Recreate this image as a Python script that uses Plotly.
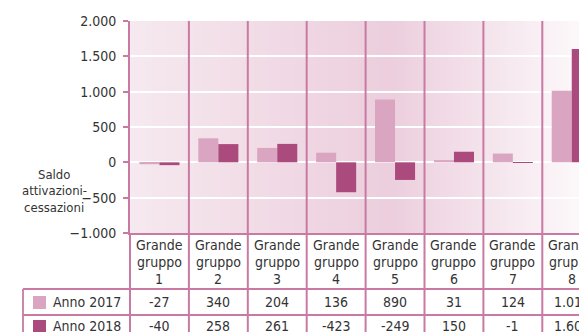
import plotly.graph_objects as go

# Grandi gruppi professionali: saldo attivazioni-cessazioni
gruppi = [1, 2, 3, 4, 5, 6, 7, 8]
anno_2017 = [-27, 340, 204, 136, 890, 31, 124, 1013]
anno_2018 = [-40, 258, 261, -423, -249, 150, -1, 1604]
serie = [("Anno 2017", anno_2017, "#d9a5c1"), ("Anno 2018", anno_2018, "#ab4a7d")]
y_ticks = [-1000, -500, 0, 500, 1000, 1500, 2000]

W, H = 579, 332
L, T, PW, PH = 130, 21, 449, 212
LINE = "#c97aa3"
TXT = "#333333"
FONT = "DejaVu Sans Condensed, Liberation Sans Narrow, Roboto, sans-serif"
FS = 14


def fx(p):
    return (p - L) / PW


def fy(p):
    return (T + PH - p) / PH


def it_num(v):
    return f"{v:,}".replace(",", ".")


fig = go.Figure()
for nome, valori, colore in serie:
    fig.add_trace(go.Bar(
        x=gruppi, y=valori, name=nome,
        marker=dict(color=colore, line=dict(width=0)),
        showlegend=False,
    ))

shapes = []
# horizontal gradient behind the plot area
stops = [(0.0, (246, 233, 239)), (0.58, (236, 206, 221)), (1.0, (252, 248, 250))]
N = 120
for i in range(N):
    t = (i + 0.5) / N
    for (a, ca), (b, cb) in zip(stops[:-1], stops[1:]):
        if a <= t <= b:
            f = (t - a) / (b - a)
            c = tuple(round(ca[k] + (cb[k] - ca[k]) * f) for k in range(3))
            break
    shapes.append(dict(type="rect", xref="paper", yref="paper",
                       x0=i / N, x1=(i + 1) / N + 0.002, y0=0, y1=1,
                       fillcolor=f"rgb{c}", line=dict(width=0), layer="below"))

# column separators (plot area + table)
for g in gruppi:
    shapes.append(dict(type="line", xref="x", yref="paper",
                       x0=g + 0.5, x1=g + 0.5, y0=1, y1=fy(345),
                       line=dict(color=LINE, width=2)))
# table frame
shapes.append(dict(type="line", xref="paper", yref="paper",
                   x0=0, x1=0, y0=0, y1=fy(345), line=dict(color=LINE, width=2)))
shapes.append(dict(type="line", xref="paper", yref="paper",
                   x0=fx(23), x1=fx(23), y0=fy(289), y1=fy(345), line=dict(color=LINE, width=1.8)))
for yy in (289, 315):
    shapes.append(dict(type="line", xref="paper", yref="paper",
                       x0=fx(23), x1=1.01, y0=fy(yy), y1=fy(yy), line=dict(color=LINE, width=1.8)))

annotations = []
# column headers
for g in gruppi:
    for k, riga in enumerate(["Grande", "gruppo", str(g)]):
        annotations.append(dict(x=g, xref="x", y=fy(245 + 17 * k), yref="paper",
                                text=riga, showarrow=False, xanchor="center", yanchor="middle",
                                font=dict(size=FS, color=TXT, family=FONT)))
# table rows
for r, (nome, valori, colore) in enumerate(serie):
    yc = 302 + 24 * r
    shapes.append(dict(type="rect", xref="paper", yref="paper",
                       x0=fx(33), x1=fx(46), y0=fy(yc + 7), y1=fy(yc - 6),
                       fillcolor=colore, line=dict(width=0)))
    annotations.append(dict(x=fx(123), xref="paper", y=fy(yc), yref="paper",
                            text=nome, showarrow=False, xanchor="right", yanchor="middle",
                            font=dict(size=FS, color=TXT, family=FONT)))
    for g, v in zip(gruppi, valori):
        annotations.append(dict(x=g, xref="x", y=fy(yc), yref="paper",
                                text=it_num(v), showarrow=False, xanchor="center", yanchor="middle",
                                font=dict(size=FS, color=TXT, family=FONT)))
# y-axis title
for k, riga in enumerate(["Saldo", "attivazioni-", "cessazioni"]):
    annotations.append(dict(x=fx(54), xref="paper", y=fy(174 + 16.5 * k), yref="paper",
                            text=riga, showarrow=False, xanchor="center", yanchor="middle",
                            font=dict(size=13, color=TXT, family=FONT)))

fig.update_layout(
    width=W, height=H,
    margin=dict(l=L, r=W - L - PW, t=T, b=H - T - PH, pad=0),
    paper_bgcolor="white", plot_bgcolor="rgba(0,0,0,0)",
    separators=",.",
    barmode="group", bargap=0.32, bargroupgap=0,
    font=dict(family=FONT, color=TXT, size=FS),
    shapes=shapes, annotations=annotations,
    xaxis=dict(range=[0.5, 0.5 + PW / 58.9], showticklabels=False, showgrid=False,
               zeroline=False, showline=True, linecolor=LINE, linewidth=2, ticks=""),
    yaxis=dict(range=[-1000, 2000], tickvals=y_ticks, tickformat=",d",
               showgrid=True, gridcolor="white", gridwidth=1.5,
               zeroline=True, zerolinecolor="white", zerolinewidth=1.5,
               showline=True, linecolor=LINE, linewidth=2,
               ticks="outside", ticklen=5, tickwidth=1.5, tickcolor=LINE,
               ticklabelstandoff=4,
               tickfont=dict(size=FS, color=TXT, family=FONT)),
)

fig.write_html("out.html")
